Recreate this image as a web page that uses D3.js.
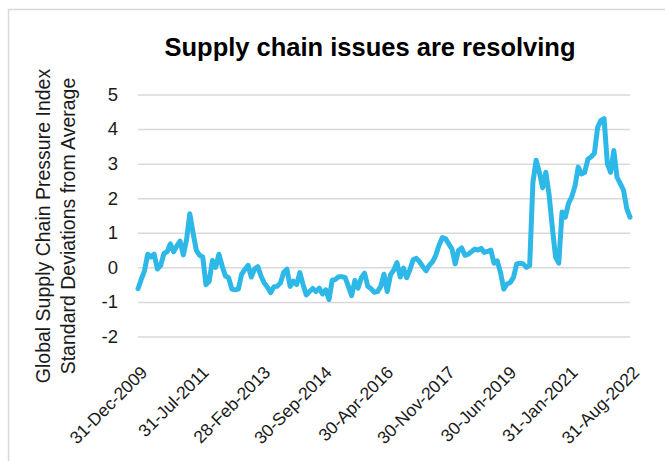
<!DOCTYPE html>
<html>
<head>
<meta charset="utf-8">
<script src="https://cdn.jsdelivr.net/npm/d3@7"></script>
<style>
  html, body { margin: 0; padding: 0; background: #fff; }
  svg { display: block; }
</style>
</head>
<body>
<div id="chart"></div>
<script>
// Global Supply Chain Pressure Index, monthly, Dec 2009 .. Aug 2022
const monthKeys = d3.timeMonth.range(new Date(2009, 11, 1), new Date(2022, 8, 1)).map(d3.timeFormat('%Y-%m'));

const gscpi = [
    -0.62, -0.35, -0.10, 0.38, 0.30, 0.38, -0.05, 0.05, 0.40, 0.45,
    0.68, 0.45, 0.62, 0.76, 0.36, 0.80, 1.55, 1.00, 0.50, 0.35,
    0.30, -0.50, -0.40, 0.20, 0.00, 0.38, 0.04, -0.25, -0.30, -0.63,
    -0.65, -0.63, -0.20, -0.06, 0.06, -0.28, -0.05, 0.02, -0.25, -0.45,
    -0.58, -0.73, -0.56, -0.55, -0.45, -0.15, -0.05, -0.55, -0.40, -0.50,
    -0.15, -0.50, -0.80, -0.70, -0.61, -0.70, -0.60, -0.77, -0.65, -0.93,
    -0.37, -0.35, -0.27, -0.27, -0.30, -0.55, -0.82, -0.38, -0.60, -0.30,
    -0.17, -0.55, -0.62, -0.72, -0.70, -0.55, -0.20, -0.70, -0.22, -0.08,
    0.14, -0.28, -0.02, -0.30, -0.07, 0.22, 0.26, 0.16, 0.02, -0.10,
    0.06, 0.16, 0.35, 0.64, 0.86, 0.83, 0.68, 0.53, 0.10, 0.49,
    0.56, 0.35, 0.38, 0.45, 0.53, 0.50, 0.55, 0.43, 0.46, 0.50,
    0.12, 0.19, -0.15, -0.63, -0.48, -0.44, -0.29, 0.10, 0.12, 0.10,
    0.00, 0.05, 2.45, 3.10, 2.75, 2.30, 2.75, 2.10, 1.16, 0.30,
    0.12, 1.60, 1.45, 1.85, 2.04, 2.35, 2.90, 2.70, 2.75, 3.13,
    3.20, 3.30, 4.05, 4.25, 4.30, 3.00, 2.75, 3.38, 2.60, 2.42,
    2.23, 1.70, 1.45
];

const yTicks = [-2, -1, 0, 1, 2, 3, 4, 5];
const xTickMonths = ['2009-12', '2011-07', '2013-02', '2014-09', '2016-04', '2017-11', '2019-06', '2021-01', '2022-08'];
const xTickLabels = ['31-Dec-2009', '31-Jul-2011', '28-Feb-2013', '30-Sep-2014', '30-Apr-2016',
    '30-Nov-2017', '30-Jun-2019', '31-Jan-2021', '31-Aug-2022'];

const chartTitle = 'Supply chain issues are resolving';
const yTitleLines = ['Global Supply Chain Pressure Index', 'Standard Deviations from Average'];

const width = 665;
const height = 461;
const plot = { left: 138, right: 630, top: 94.5, bottom: 336.5 };
const gridColor = '#d9d9d9';
const lineColor = '#2eb8e8';
const textColor = '#1a1a1a';
const fontFamily = '"Liberation Sans", Arial, sans-serif';

const svg = d3.select('#chart').append('svg')
    .attr('width', width)
    .attr('height', height);

// outer frame, only top and left edges fall inside the picture
svg.append('rect')
    .attr('x', 8.5)
    .attr('y', 9.5)
    .attr('width', 700)
    .attr('height', 500)
    .attr('fill', 'none')
    .attr('stroke', gridColor)
    .attr('stroke-width', 1.5);

const xScale = d3.scalePoint()
    .domain(monthKeys)
    .range([plot.left, plot.right]);

const yScale = d3.scaleLinear()
    .domain([-2, 5])
    .range([plot.bottom, plot.top]);

svg.append('text')
    .attr('x', 370)
    .attr('y', 56)
    .attr('text-anchor', 'middle')
    .attr('font-family', fontFamily)
    .attr('font-weight', 700)
    .attr('font-size', 25.5)
    .attr('fill', '#000')
    .text(chartTitle);

// gridlines and y labels (plain hyphen for negatives, as in the source)
svg.append('g')
    .attr('transform', `translate(${plot.left},0)`)
    .call(d3.axisLeft(yScale)
        .tickValues(yTicks)
        .tickFormat((value) => String(value))
        .tickSize(-(plot.right - plot.left))
        .tickPadding(20))
    .call((group) => group.select('.domain').remove())
    .call((group) => group.selectAll('line').attr('stroke', gridColor).attr('stroke-width', 1.5))
    .call((group) => group.selectAll('text')
        .attr('fill', textColor)
        .attr('font-family', fontFamily)
        .attr('font-size', 18.5));

// x labels, rotated
svg.append('g')
    .attr('transform', `translate(0,${plot.bottom})`)
    .call(d3.axisBottom(xScale)
        .tickValues(xTickMonths)
        .tickSize(0)
        .tickFormat((key) => xTickLabels[xTickMonths.indexOf(key)]))
    .call((group) => group.select('.domain').remove())
    .call((group) => group.selectAll('text')
        .attr('fill', textColor)
        .attr('font-family', fontFamily)
        .attr('font-size', 17.5)
        .attr('text-anchor', 'end')
        .attr('dy', null)
        .attr('y', 0)
        .attr('transform', 'translate(10,37) rotate(-45)'));

const line = d3.line()
    .x((value, index) => xScale(monthKeys[index]))
    .y((value) => yScale(value));

svg.append('path')
    .datum(gscpi)
    .attr('d', line)
    .attr('fill', 'none')
    .attr('stroke', lineColor)
    .attr('stroke-width', 5)
    .attr('stroke-linejoin', 'round')
    .attr('stroke-linecap', 'round');

const yTitle = svg.append('text')
    .attr('transform', 'translate(0,226) rotate(-90)')
    .attr('text-anchor', 'middle')
    .attr('font-family', fontFamily)
    .attr('font-size', 19.5)
    .attr('fill', textColor);

yTitle.selectAll('tspan')
    .data(yTitleLines)
    .enter()
    .append('tspan')
    .attr('x', 0)
    .attr('y', (datum, index) => 50 + index * 25)
    .text((datum) => datum);
</script>
</body>
</html>
